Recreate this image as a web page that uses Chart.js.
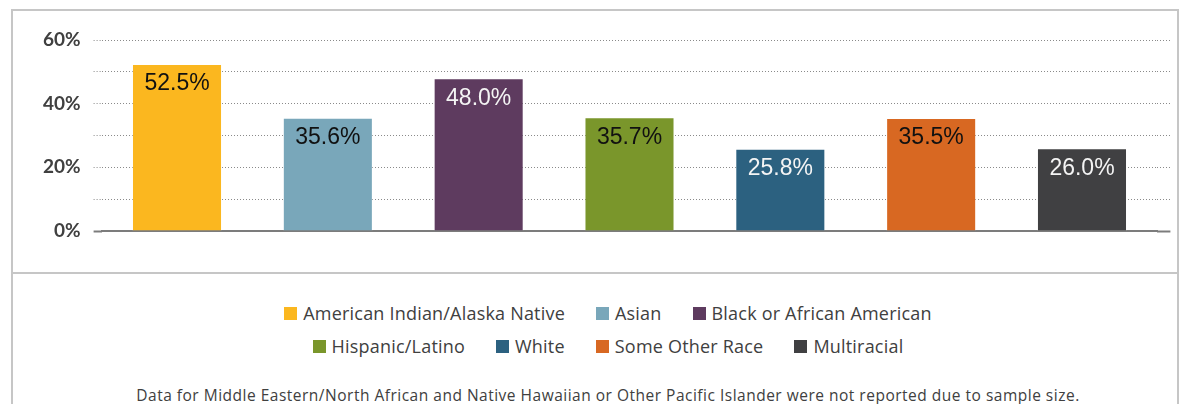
<!DOCTYPE html>
<html>
<head>
<meta charset="utf-8">
<script src="https://cdn.jsdelivr.net/npm/chart.js@4.4.1/dist/chart.umd.min.js"></script>
<style>
  html, body { margin:0; padding:0; background:#fff; width:1180px; height:404px; overflow:hidden; }
  #frame { position:absolute; left:11px; top:9px; width:1164px; height:430px; border:2px solid #c6c6c6; }
  #divider { position:absolute; left:11px; top:272px; width:1168px; height:2px; background:#c6c6c6; }
  #chart-wrap { position:absolute; left:0; top:0; width:1180px; height:272px; }
  #legend-wrap { position:absolute; left:36px; right:0; top:297px; }
  #legend { display:flex; flex-wrap:wrap; justify-content:center; column-gap:31px; max-width:690px; margin:0 auto;
            font-family:'Open Sans', sans-serif; font-size:18px; letter-spacing:0.2px; line-height:33px; color:#404040; }
  #legend .item { display:flex; align-items:center; white-space:nowrap; }
  #legend .box { width:13px; height:13px; margin-right:6px; display:inline-block; }
  #footnote { position:absolute; left:36px; right:0; top:385px; text-align:center; white-space:nowrap;
              font-family:'Open Sans', sans-serif; font-size:15.5px; letter-spacing:0.5px; line-height:20px; color:#404040; }
</style>
</head>
<body>
<div id="frame"></div>
<div id="divider"></div>
<div id="chart-wrap"><canvas id="chart"></canvas></div>
<div id="legend-wrap"><div id="legend"></div></div>
<div id="footnote"></div>

<script>
/* ── Data ── */
var CATEGORIES = ['American Indian/Alaska Native', 'Asian', 'Black or African American',
                  'Hispanic/Latino', 'White', 'Some Other Race', 'Multiracial'];
var VALUES = [52.5, 35.6, 48.0, 35.7, 25.8, 35.5, 26.0];
var Y_TICK_LABELS = [0, 20, 40, 60];
var FOOTNOTE = 'Data for Middle Eastern/North African and Native Hawaiian or Other Pacific Islander were not reported due to sample size.';

/* ── Styles ── */
var BAR_COLORS   = ['#FBB71F', '#79A7BA', '#5E3B5F', '#7A962B', '#2C6180', '#D86822', '#404042'];
var LABEL_COLORS = ['#111111', '#111111', '#F4F4F4', '#111111', '#F4F4F4', '#111111', '#F4F4F4'];
var GRID = '#8a8a8a';
var BASE = '#7c7c7c';

function tickDash(ctx) { return ctx.tick && ctx.tick.value === 0 ? [] : [1, 2]; }
function tickCol(ctx)  { return ctx.tick && ctx.tick.value === 0 ? BASE : GRID; }
function tickW(ctx)    { return ctx.tick && ctx.tick.value === 0 ? 2 : 1; }

/* value labels inside the top of each bar */
var barLabels = {
  id: 'barLabels',
  afterDatasetsDraw: function(chart) {
    var ctx = chart.ctx;
    var meta = chart.getDatasetMeta(0);
    ctx.save();
    ctx.font = '23px "Liberation Sans", Arial, sans-serif';
    ctx.textAlign = 'center';
    ctx.textBaseline = 'middle';
    meta.data.forEach(function(bar, i) {
      ctx.fillStyle = LABEL_COLORS[i];
      ctx.fillText(VALUES[i].toFixed(1) + '%', bar.x, bar.y + 20);
    });
    ctx.restore();
  }
};

new Chart(document.getElementById('chart').getContext('2d'), {
  type: 'bar',
  data: {
    labels: CATEGORIES,
    datasets: [{
      data: VALUES,
      backgroundColor: BAR_COLORS,
      borderColor: 'rgba(255,255,255,0.3)',
      borderWidth: 1,
      categoryPercentage: 1,
      barPercentage: 0.597
    }]
  },
  options: {
    responsive: true,
    maintainAspectRatio: false,
    animation: false,
    layout: { padding: { top: 40, left: 0, right: 0, bottom: 41 } },
    plugins: { legend: { display: false }, tooltip: { enabled: false } },
    scales: {
      x: {
        ticks: { display: false },
        grid: { display: false, drawTicks: false },
        border: { display: true, color: BASE, width: 2 },
        afterFit: function(s) { s.height = 0; }
      },
      y: {
        min: 0, max: 60,
        ticks: {
          stepSize: 10, padding: 13, color: '#404040',
          font: { family: 'Lato', weight: 'bold', size: 19 },
          callback: function(v) { return Y_TICK_LABELS.indexOf(v) >= 0 ? v + '%' : ''; }
        },
        grid: { color: GRID, lineWidth: 1, borderDash: [1, 2], tickLength: 8,
                tickColor: tickCol, tickWidth: tickW, tickBorderDash: tickDash },
        border: { display: false, dash: [1, 2] },
        afterFit: function(s) { s.width = 101.6; }
      },
      y2: {
        position: 'right',
        min: 0, max: 60,
        ticks: { stepSize: 10, display: false },
        grid: { drawOnChartArea: false, tickLength: 13,
                tickColor: tickCol, tickWidth: tickW, tickBorderDash: tickDash },
        border: { display: false },
        afterFit: function(s) { s.width = 22.6; }
      }
    }
  },
  plugins: [barLabels]
});

/* ── Legend + footnote ── */
document.getElementById('legend').innerHTML = CATEGORIES.map(function(c, i) {
  return '<span class="item"><span class="box" style="background:' + BAR_COLORS[i] + '"></span>' + c + '</span>';
}).join('');
document.getElementById('footnote').textContent = FOOTNOTE;
</script>
</body>
</html>
